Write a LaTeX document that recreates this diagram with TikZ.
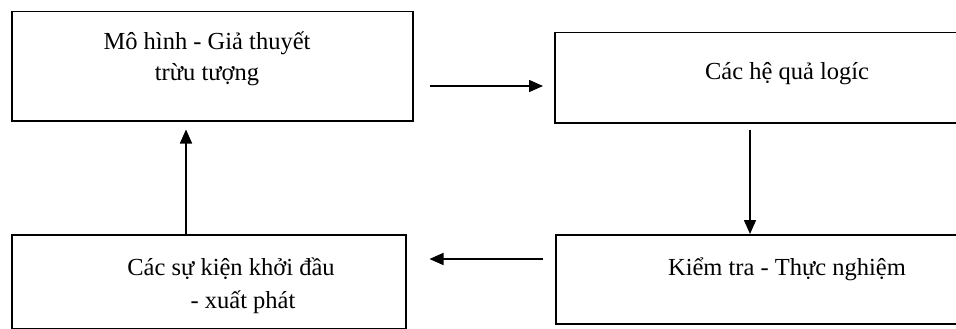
\documentclass[tikz,border=0pt]{standalone}
\usepackage{fontspec}
\setmainfont{Liberation Serif}
\usetikzlibrary{arrows.meta,calc}
\begin{document}
\begin{tikzpicture}[x=1pt,y=-1pt,
  box/.style={draw,line width=1.5pt,rectangle,inner sep=0pt,anchor=north west},
  lbl/.style={anchor=base,inner sep=0pt,font=\fontsize{24.5}{28}\selectfont},
  arr/.style={line width=1.5pt,-{Triangle[length=14pt,width=12pt]}}]
\useasboundingbox (0,0) rectangle (956,329);
\clip (0,0) rectangle (956,329);
\node[box,minimum width=401pt,minimum height=109pt] (A) at (11,11) {};
\node[box,minimum width=420pt,minimum height=90pt] (B) at (554,32) {};
\node[box,minimum width=394pt,minimum height=94pt] (C) at (11,234) {};
\node[box,minimum width=420pt,minimum height=89pt] (D) at (555,234) {};
\node[lbl] (a1) at (207,50) {Mô hình - Giả thuyết};
\node[lbl] (a2) at (207,81) {trừu tượng};
\node[lbl] (b1) at (787,80) {Các hệ quả logíc};
\node[lbl] (c1) at (231,275) {Các sự kiện khởi đầu};
\node[lbl] (c2) at (243,308) {- xuất phát};
\node[lbl] (d1) at (787,275) {Kiểm tra - Thực nghiệm};
\draw[arr] ($(A.north east)+(16,75)$) -- ($(B.north west)+(-11,54)$);
\draw[arr] ($(B.south west)+(196,6)$) -- ($(D.north west)+(195,0)$);
\draw[arr] ($(D.north west)+(-12,25)$) -- ($(C.north east)+(23,25)$);
\draw[arr] ($(C.north west)+(175,0)$) -- ($(A.south west)+(175,8)$);
\end{tikzpicture}
\end{document}
